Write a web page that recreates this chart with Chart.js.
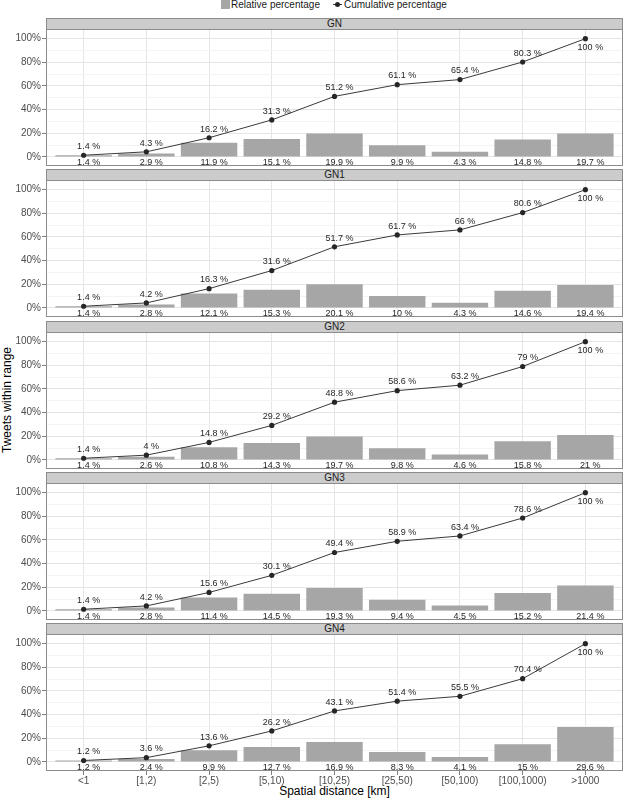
<!DOCTYPE html>
<html>
<head>
<meta charset="utf-8">
<script src="https://cdn.jsdelivr.net/npm/chart.js@4.4.1/dist/chart.umd.min.js"></script>
<style>
  html, body { margin: 0; padding: 0; background: #fff; }
  body { width: 629px; height: 801px; position: relative; overflow: hidden; font-family: "Liberation Sans", Arial, Helvetica, sans-serif; }
  .abs { position: absolute; }
  .strip { position: absolute; left: 46px; width: 577px; height: 12px; background: #cccccc; border: 1px solid #8c8c8c; box-sizing: border-box; font-size: 10px; line-height: 10px; text-align: center; color: #1a1a1a; }
  .wrap { position: absolute; left: 0; width: 629px; }
  .legtxt { font-size: 10px; color: #1a1a1a; line-height: 10px; white-space: nowrap; }
</style>
</head>
<body>
<div class="abs" style="left:221px;top:0px;width:9px;height:9px;background:#a6a6a6;"></div>
<div class="abs legtxt" style="left:231px;top:0px;">Relative percentage</div>
<div class="abs" style="left:333px;top:4px;width:9px;height:1px;background:#333;"></div>
<div class="abs" style="left:335px;top:2px;width:5px;height:5px;border-radius:50%;background:#262626;"></div>
<div class="abs legtxt" style="left:344px;top:0px;">Cumulative percentage</div>

<div class="abs" style="left:7px;top:400px;transform:translate(-50%,-50%) rotate(-90deg);font-size:12px;white-space:nowrap;color:#000;">Tweets within range</div>
<div class="abs" style="left:334.5px;top:791px;transform:translate(-50%,-50%);font-size:12px;white-space:nowrap;color:#000;">Spatial distance [km]</div>

<div id="root"></div>

<script>
const categories = ['<1', '[1,2)', '[2,5)', '[5,10)', '[10,25)', '[25,50)', '[50,100)', '[100,1000)', '>1000'];
const panelNames = ['GN', 'GN1', 'GN2', 'GN3', 'GN4'];

const relGN  = [1.4, 2.9, 11.9, 15.1, 19.9, 9.9, 4.3, 14.8, 19.7];
const cumGN  = [1.4, 4.3, 16.2, 31.3, 51.2, 61.1, 65.4, 80.3, 100];
const relGN1 = [1.4, 2.8, 12.1, 15.3, 20.1, 10, 4.3, 14.6, 19.4];
const cumGN1 = [1.4, 4.2, 16.3, 31.6, 51.7, 61.7, 66, 80.6, 100];
const relGN2 = [1.4, 2.6, 10.8, 14.3, 19.7, 9.8, 4.6, 15.8, 21];
const cumGN2 = [1.4, 4, 14.8, 29.2, 48.8, 58.6, 63.2, 79, 100];
const relGN3 = [1.4, 2.8, 11.4, 14.5, 19.3, 9.4, 4.5, 15.2, 21.4];
const cumGN3 = [1.4, 4.2, 15.6, 30.1, 49.4, 58.9, 63.4, 78.6, 100];
const relGN4 = [1.2, 2.4, 9.9, 12.7, 16.9, 8.3, 4.1, 15, 29.6];
const cumGN4 = [1.2, 3.6, 13.6, 26.2, 43.1, 51.4, 55.5, 70.4, 100];

const yMajorTicks = [0, 20, 40, 60, 80, 100];
const yMinorTicks = [10, 30, 50, 70, 90];

const relSeries = [relGN, relGN1, relGN2, relGN3, relGN4];
const cumSeries = [cumGN, cumGN1, cumGN2, cumGN3, cumGN4];

const FONT = '"Liberation Sans", Arial, Helvetica, sans-serif';
const stripTops = [18, 169, 321, 472, 623];
const PLOT_H = 137;
const STRIP_H = 11;

const labelPlugin = {
  id: 'valueLabels',
  afterDatasetsDraw(chart) {
    const ctx = chart.ctx;
    const ys = chart.scales.y;
    const zero = ys.getPixelForValue(0);
    ctx.save();
    ctx.font = '9px ' + FONT;
    ctx.fillStyle = '#262626';
    ctx.textAlign = 'center';
    ctx.textBaseline = 'middle';
    chart.data.datasets.forEach((ds, di) => {
      const meta = chart.getDatasetMeta(di);
      meta.data.forEach((el, i) => {
        const v = ds.data[i].y;
        const txt = v + ' %';
        if (ds.type === 'line') {
          const dy = v >= 100 ? 8.7 : -8.7;
          ctx.fillText(txt, el.x + 5, el.y + dy);
        } else {
          ctx.fillText(txt, el.x + 5, zero + 5.3);
        }
      });
    });
    ctx.restore();
  },
  afterDraw(chart) {
    const a = chart.chartArea;
    const ctx = chart.ctx;
    ctx.save();
    ctx.strokeStyle = '#8c8c8c';
    ctx.lineWidth = 1;
    ctx.strokeRect(Math.round(a.left) + 0.5, Math.round(a.top) + 0.5, Math.round(a.right - a.left) - 1, Math.round(a.bottom - a.top) - 1);
    ctx.restore();
  }
};

function noPad(s) {
  s.paddingTop = 0; s.paddingBottom = 0; s.paddingLeft = 0; s.paddingRight = 0;
}

const root = document.getElementById('root');
panelNames.forEach((name, p) => {
  const isLast = p === panelNames.length - 1;
  const strip = document.createElement('div');
  strip.className = 'strip';
  strip.style.top = stripTops[p] + 'px';
  strip.textContent = name;
  root.appendChild(strip);

  const wrap = document.createElement('div');
  wrap.className = 'wrap';
  const top = stripTops[p] + STRIP_H;
  wrap.style.top = top + 'px';
  const xAxisH = isLast ? 17 : 0;
  wrap.style.height = (PLOT_H + xAxisH) + 'px';
  const cv = document.createElement('canvas');
  wrap.appendChild(cv);
  root.appendChild(wrap);

  new Chart(cv, {
    type: 'bar',
    data: {
      datasets: [
        {
          type: 'line',
          label: 'Cumulative percentage',
          data: cumSeries[p].map((v, i) => ({ x: i, y: v })),
          borderColor: '#3a3a3a',
          borderWidth: 1,
          pointRadius: 2.6,
          pointHoverRadius: 2.6,
          pointBackgroundColor: '#262626',
          pointBorderColor: '#262626',
          pointBorderWidth: 0,
          tension: 0,
          order: 0,
          clip: false
        },
        {
          type: 'bar',
          label: 'Relative percentage',
          data: relSeries[p].map((v, i) => ({ x: i, y: v })),
          backgroundColor: '#a6a6a6',
          borderWidth: 0,
          barPercentage: 0.9,
          categoryPercentage: 1,
          order: 1
        }
      ]
    },
    options: {
      responsive: true,
      maintainAspectRatio: false,
      animation: false,
      events: [],
      layout: { autoPadding: false, padding: { left: 0, right: 6, top: 0, bottom: 0 } },
      plugins: { legend: { display: false }, tooltip: { enabled: false } },
      scales: {
        x: {
          type: 'linear',
          min: -0.6,
          max: 8.6,
          offset: false,
          afterBuildTicks: s => { s.ticks = categories.map((c, i) => ({ value: i })); },
          afterFit: s => { s.height = xAxisH; noPad(s); },
          grid: { offset: false, color: '#e5e5e5', lineWidth: 1, drawTicks: isLast, tickLength: 4, tickColor: '#7f7f7f' },
          border: { display: false },
          ticks: {
            display: isLast,
            padding: 0,
            autoSkip: false,
            maxRotation: 0,
            color: '#4d4d4d',
            font: { family: FONT, size: 10 },
            callback: (v) => categories[v]
          }
        },
        y: {
          type: 'linear',
          min: -7.7,
          max: 108.2,
          afterBuildTicks: s => { s.ticks = yMajorTicks.concat(yMinorTicks).sort((a, b) => a - b).map(v => ({ value: v })); },
          afterFit: s => { s.width = 46; noPad(s); },
          grid: {
            color: c => (yMajorTicks.includes(c.tick && c.tick.value) ? '#e5e5e5' : '#f3f3f3'),
            lineWidth: 1,
            drawTicks: true,
            tickLength: 4,
            tickColor: c => (yMajorTicks.includes(c.tick && c.tick.value) ? '#7f7f7f' : 'rgba(0,0,0,0)')
          },
          border: { display: false },
          ticks: {
            padding: 1,
            autoSkip: false,
            color: '#4d4d4d',
            font: { family: FONT, size: 10 },
            callback: v => (yMajorTicks.includes(v) ? v + '%' : '')
          }
        }
      }
    },
    plugins: [labelPlugin]
  });
});
</script>
</body>
</html>
